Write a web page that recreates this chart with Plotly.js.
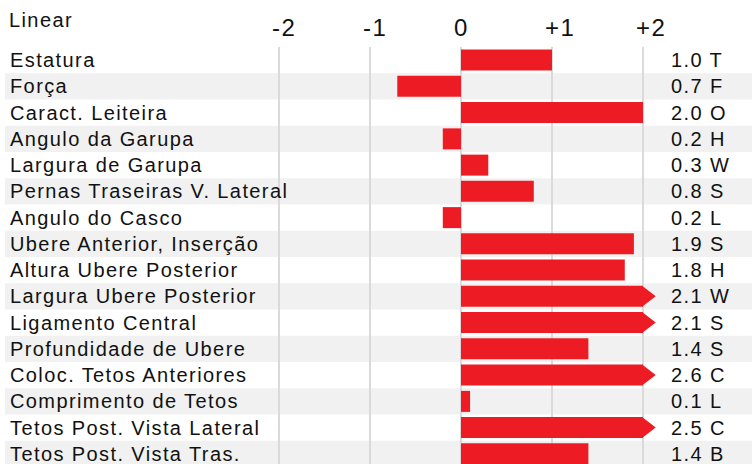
<!DOCTYPE html>
<html>
<head>
<meta charset="utf-8">
<script src="https://cdn.plot.ly/plotly-3.0.1.min.js"></script>
<style>
html,body{margin:0;padding:0;background:#fff;}
#chart{width:752px;height:464px;}
.annotation-text{letter-spacing:1.4px;}
.xtick text{letter-spacing:1.5px;}
</style>
</head>
<body>
<div id="chart"></div>
<script>
// ---- data ----
const traits = [
  "Estatura", "Força", "Caract. Leiteira", "Angulo da Garupa", "Largura de Garupa",
  "Pernas Traseiras V. Lateral", "Angulo do Casco", "Ubere Anterior, Inserção",
  "Altura Ubere Posterior", "Largura Ubere Posterior", "Ligamento Central",
  "Profundidade de Ubere", "Coloc. Tetos Anteriores", "Comprimento de Tetos",
  "Tetos Post. Vista Lateral", "Tetos Post. Vista Tras."
];
const values = [1.0, -0.7, 2.0, -0.2, 0.3, 0.8, -0.2, 1.9, 1.8, 2.1, 2.1, 1.4, 2.6, 0.1, 2.5, 1.4];
const letters = ["T", "F", "O", "H", "W", "S", "L", "S", "H", "W", "S", "S", "C", "L", "C", "B"];
const tickValues = [-2, -1, 0, 1, 2];
const tickLabels = ["-2", "-1", "0", "+1", "+2"];
const chartTitle = "Linear";

// ---- styling ----
const RED = "#ed1c24";
const STRIPE = "#f0f1f0";
const CAP = 2;          // bars are capped at the last gridline
const ARROW = 0.14;     // arrow tip length beyond the cap (axis units)
const BARW = 0.8;
const FONT = "Liberation Sans, Arial, Helvetica, sans-serif";
const TXT = "#111";

const idx = traits.map((_, i) => i);
const shown = values.map(v => Math.max(-CAP, Math.min(CAP, v)));

const traces = [{
  type: "bar", orientation: "h",
  x: shown, y: idx, width: BARW,
  marker: {color: RED, line: {width: 0}},
  hoverinfo: "skip"
}];

values.forEach((v, i) => {
  if (v > CAP) {
    traces.push({
      type: "scatter", mode: "lines", fill: "toself",
      x: [CAP - 0.01, CAP + ARROW, CAP - 0.01, CAP - 0.01],
      y: [i - BARW / 2, i, i + BARW / 2, i - BARW / 2],
      fillcolor: RED, line: {width: 0, color: RED},
      hoverinfo: "skip"
    });
  }
});

const shapes = [];
idx.forEach(i => {
  if (i % 2 === 1) {
    shapes.push({
      type: "rect", layer: "below",
      xref: "paper", x0: 5 / 752, x1: 1,
      yref: "y", y0: i - 0.5, y1: i + 0.5,
      fillcolor: STRIPE, line: {width: 0}
    });
  }
});

const annotations = [];
idx.forEach(i => {
  annotations.push({
    xref: "paper", x: 8 / 752, xanchor: "left",
    yref: "y", y: i, yanchor: "middle",
    text: traits[i], showarrow: false,
    font: {family: FONT, size: 20, color: TXT}
  });
  annotations.push({
    xref: "x", x: 2.29, xanchor: "left",
    yref: "y", y: i, yanchor: "middle",
    text: Math.abs(values[i]).toFixed(1) + " " + letters[i], showarrow: false,
    font: {family: FONT, size: 20, color: TXT}
  });
});
annotations.push({
  xref: "paper", x: 7 / 752, xanchor: "left",
  yref: "paper", y: 1, yanchor: "bottom", yshift: 14,
  text: chartTitle, showarrow: false,
  font: {family: FONT, size: 20, color: TXT}
});

const layout = {
  width: 752, height: 464,
  margin: {l: 0, r: 0, t: 47, b: 0, pad: 0},
  paper_bgcolor: "#fff", plot_bgcolor: "rgba(0,0,0,0)",
  showlegend: false,
  xaxis: {
    side: "top", range: [-5.066, 3.198],
    tickvals: tickValues, ticktext: tickLabels,
    showgrid: true, gridcolor: "#dadada", gridwidth: 1.2,
    zeroline: false, showline: false, ticks: "",
    tickfont: {family: FONT, size: 24, color: TXT},
    ticklabelposition: "outside right",
    ticklabelshift: -7, ticklabelstandoff: 5,
    fixedrange: true
  },
  yaxis: {
    range: [15.386, -0.5],
    showticklabels: false, showgrid: false, zeroline: false, ticks: "",
    fixedrange: true
  },
  shapes: shapes,
  annotations: annotations
};

Plotly.newPlot("chart", traces, layout, {displayModeBar: false, staticPlot: true});
</script>
</body>
</html>
